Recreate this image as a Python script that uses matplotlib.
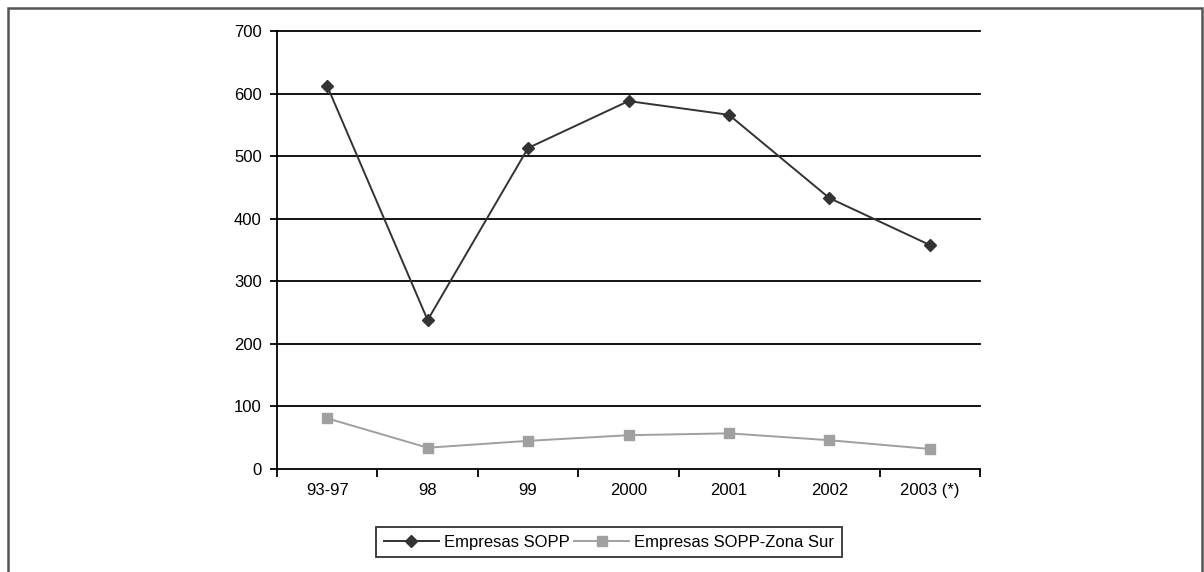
import matplotlib
matplotlib.use("Agg")
import matplotlib.pyplot as plt
from matplotlib.patches import Rectangle
from matplotlib.lines import Line2D

plt.rcParams['font.family'] = ['Liberation Sans', 'DejaVu Sans']

categories = ["93-97", "98", "99", "2000", "2001", "2002", "2003 (*)"]
sopp = [612, 238, 513, 588, 566, 433, 358]
sopp_sur = [81, 34, 45, 54, 57, 46, 32]
y_ticks = [0, 100, 200, 300, 400, 500, 600, 700]

W, H = 1204, 572
FS = 12
fig = plt.figure(figsize=(W / 100, H / 100), dpi=100)

# outer frame of the figure
fig.patches.append(Rectangle((8 / W, -0.2), (1202 - 8) / W, 0.2 + (H - 8) / H,
                             transform=fig.transFigure, fill=False,
                             edgecolor='#555555', linewidth=1.8, zorder=0))

ax = fig.add_axes([277 / W, (H - 469) / H, 703 / W, 438 / H])
x = list(range(len(categories)))

ax.plot(x, sopp, color='#333333', linewidth=1.4, marker='D', markersize=6,
        markerfacecolor='#333333', markeredgecolor='#333333',
        label='Empresas SOPP', zorder=3)
ax.plot(x, sopp_sur, color='#a0a0a0', linewidth=1.4, marker='s', markersize=7,
        markerfacecolor='#a0a0a0', markeredgecolor='#a0a0a0',
        label='Empresas SOPP-Zona Sur', zorder=3)

ax.set_xlim(-0.5, len(categories) - 0.5)
ax.set_ylim(0, 700)
ax.set_yticks(y_ticks)
ax.set_yticklabels([str(v) for v in y_ticks], fontsize=FS)
for v in y_ticks[1:]:
    ax.axhline(v, color='black', linewidth=1.3, zorder=1, clip_on=False)

ax.set_xticks(x)
ax.set_xticklabels(categories, fontsize=FS)
ax.tick_params(axis='x', which='major', length=0, pad=10)
ax.set_xticks([i - 0.5 for i in range(len(categories) + 1)], minor=True)
ax.tick_params(axis='x', which='minor', length=6, width=1.3, direction='out', color='black')
ax.tick_params(axis='y', length=5, width=1.3, direction='out', color='black', pad=6)

for s in ['top', 'right']:
    ax.spines[s].set_visible(False)
ax.spines['left'].set_linewidth(1.3)
ax.spines['bottom'].set_linewidth(1.3)

h1 = Line2D([], [], color='#333333', linewidth=1.4, marker='D', markersize=6,
            markerfacecolor='#333333', markeredgecolor='#333333')
h2 = Line2D([], [], color='#a0a0a0', linewidth=1.4, marker='s', markersize=7,
            markerfacecolor='#a0a0a0', markeredgecolor='#a0a0a0')
leg = fig.legend([h1, h2], ['Empresas SOPP', 'Empresas SOPP-Zona Sur'],
                 loc='center', bbox_to_anchor=(609 / W, (H - 542) / H),
                 ncol=2, fontsize=FS, frameon=True, fancybox=False,
                 edgecolor='black', handlelength=3.3, handletextpad=0.3,
                 columnspacing=0.3, borderpad=0.45, borderaxespad=0)
leg.get_frame().set_linewidth(1.3)

fig.savefig("out.png", dpi=100, facecolor='white')
